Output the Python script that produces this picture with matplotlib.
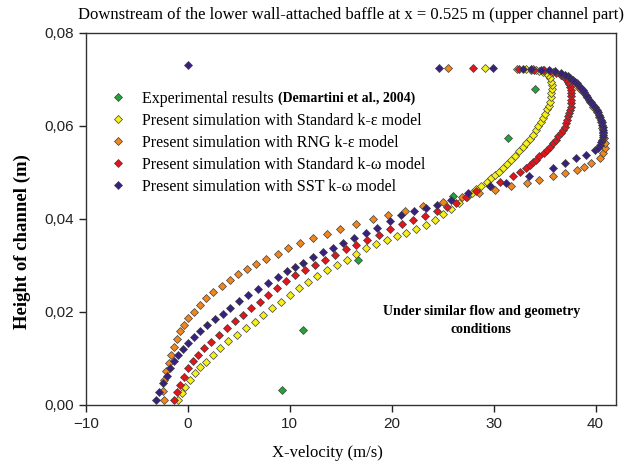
import numpy as np
import matplotlib
matplotlib.use("Agg")
import matplotlib.pyplot as plt
from matplotlib.ticker import FuncFormatter

# experimental points (Demartini et al., 2004)
exp_x = [9.2, 11.3, 16.7, 26.0, 31.4, 34.1]
exp_y = [0.0032, 0.0161, 0.0312, 0.0450, 0.0573, 0.0678]

# standard k-epsilon
ske_x = [-0.95, -0.6, -0.3, 0.2, 0.7, 1.2, 1.8, 2.5, 3.1, 3.9, 4.8, 5.7, 6.6, 7.4, 8.2,
         9.1, 10.0, 10.9, 11.8, 12.7, 13.6, 14.6, 15.6, 16.5, 17.5, 18.5, 19.5, 20.5,
         21.4, 22.4, 23.4, 24.2, 25.0, 25.8, 26.6, 27.4, 27.9, 28.3, 28.8, 29.3, 29.7,
         30.1, 30.5, 30.9, 31.3, 31.7, 32.1, 32.5, 32.9, 33.2, 33.6, 33.9, 34.2, 34.4,
         34.6, 34.8, 35.0, 35.2, 35.4, 35.5, 35.6, 35.6, 35.7, 35.7, 35.6, 35.5, 35.3,
         35.1, 34.8, 34.5, 34.2, 33.7, 33.2, 29.2]
ske_y = [0.0011, 0.0025, 0.0039, 0.0054, 0.0068, 0.0081, 0.0093, 0.0108, 0.0122, 0.0137,
         0.0151, 0.0165, 0.0179, 0.0194, 0.0208, 0.0222, 0.0237, 0.0251, 0.0265, 0.0278,
         0.0290, 0.0301, 0.0312, 0.0324, 0.0337, 0.0346, 0.0355, 0.0363, 0.0370, 0.0379,
         0.0387, 0.0398, 0.0410, 0.0422, 0.0434, 0.0447, 0.0455, 0.0463, 0.0471, 0.0480,
         0.0487, 0.0494, 0.0501, 0.0509, 0.0518, 0.0527, 0.0536, 0.0545, 0.0554, 0.0563,
         0.0572, 0.0581, 0.0590, 0.0599, 0.0608, 0.0617, 0.0626, 0.0635, 0.0643, 0.0652,
         0.0661, 0.0670, 0.0679, 0.0688, 0.0695, 0.0702, 0.0708, 0.0713, 0.0716, 0.0718,
         0.0720, 0.0720, 0.0721, 0.0725]

# RNG k-epsilon
rng_x = [-2.4, -2.5, -2.4, -2.2, -1.9, -1.7, -1.4, -1.1, -0.8, -0.4, 0.0, 0.6, 1.2, 1.8,
         2.5, 3.3, 4.1, 4.9, 5.8, 6.7, 7.7, 8.8, 9.8, 11.0, 12.3, 13.6, 14.9, 16.5, 18.2,
         19.6, 21.3, 23.1, 25.0, 26.9, 28.6, 30.1, 31.7, 33.3, 34.5, 35.8, 37.0, 38.2,
         38.9, 39.6, 40.4, 40.7, 40.9, 40.9, 40.8, 40.7, 40.6, 40.5, 40.3, 40.1, 39.8,
         39.5, 39.2, 38.8, 38.4, 37.9, 37.3, 36.6, 35.8, 34.9, 33.9, 32.3, 25.5]
rng_y = [0.0011, 0.0030, 0.0054, 0.0072, 0.0090, 0.0107, 0.0125, 0.0141, 0.0158, 0.0172,
         0.0186, 0.0200, 0.0215, 0.0229, 0.0242, 0.0256, 0.0269, 0.0281, 0.0292, 0.0303,
         0.0313, 0.0325, 0.0337, 0.0347, 0.0358, 0.0368, 0.0378, 0.0389, 0.0399, 0.0409,
         0.0417, 0.0427, 0.0437, 0.0446, 0.0455, 0.0462, 0.0470, 0.0477, 0.0484, 0.0491,
         0.0498, 0.0505, 0.0512, 0.0520, 0.0530, 0.0541, 0.0552, 0.0563, 0.0574, 0.0585,
         0.0596, 0.0607, 0.0618, 0.0629, 0.0640, 0.0651, 0.0662, 0.0672, 0.0682, 0.0692,
         0.0701, 0.0709, 0.0715, 0.0719, 0.0721, 0.0722, 0.0725]

# standard k-omega
skw_x = [-1.4, -1.1, -0.8, -0.4, 0.0, 0.5, 1.0, 1.6, 2.3, 3.0, 3.8, 4.6, 5.4, 6.2, 7.1,
         7.9, 8.7, 9.6, 10.5, 11.5, 12.5, 13.4, 14.4, 15.5, 16.5, 17.6, 18.7, 19.8, 21.0,
         22.1, 23.3, 24.4, 25.4, 26.3, 27.3, 28.3, 29.6, 30.6, 31.9, 32.6, 33.2, 33.6,
         33.9, 34.2, 34.5, 34.9, 35.2, 35.5, 35.8, 36.1, 36.3, 36.6, 36.8, 37.0, 37.1,
         37.2, 37.3, 37.4, 37.5, 37.6, 37.6, 37.6, 37.6, 37.6, 37.6, 37.5, 37.4, 37.3,
         37.1, 36.9, 36.6, 36.1, 35.5, 34.8, 34.0, 32.5, 28.0]
skw_y = [0.0011, 0.0027, 0.0043, 0.0061, 0.0079, 0.0094, 0.0108, 0.0122, 0.0136, 0.0151,
         0.0165, 0.0180, 0.0194, 0.0208, 0.0222, 0.0237, 0.0251, 0.0266, 0.0280, 0.0291,
         0.0301, 0.0312, 0.0323, 0.0334, 0.0344, 0.0355, 0.0366, 0.0378, 0.0388, 0.0398,
         0.0407, 0.0416, 0.0425, 0.0434, 0.0446, 0.0459, 0.0470, 0.0480, 0.0491, 0.0500,
         0.0509, 0.0515, 0.0521, 0.0527, 0.0534, 0.0541, 0.0548, 0.0555, 0.0563, 0.0570,
         0.0577, 0.0584, 0.0591, 0.0598, 0.0605, 0.0612, 0.0620, 0.0627, 0.0634, 0.0641,
         0.0649, 0.0656, 0.0663, 0.0670, 0.0677, 0.0684, 0.0690, 0.0695, 0.0700, 0.0705,
         0.0710, 0.0714, 0.0717, 0.0719, 0.0720, 0.0721, 0.0725]

# SST k-omega
sst_x = [-3.1, -2.8, -2.5, -2.1, -1.8, -1.4, -0.95, -0.5, 0.0, 0.6,
         1.2, 1.9, 2.65, 3.4, 4.1, 5.0, 5.9, 6.9, 7.9, 8.8,
         9.7, 10.5, 11.3, 12.3, 13.3, 14.2, 15.2, 16.3, 17.5, 18.6,
         19.8, 20.9, 22.2, 23.4, 24.4, 25.8, 27.5, 29.6, 31.2, 33.5,
         35.8, 37.0, 38.1, 39.1, 39.9, 40.2, 40.4, 40.5, 40.6, 40.7,
         40.7, 40.7, 40.7, 40.7, 40.6, 40.6, 40.5, 40.4, 40.3, 40.2,
         40.1, 39.9, 39.8, 39.6, 39.4, 39.2, 39.1, 38.9, 38.8, 38.6,
         38.4, 38.2, 38.0, 37.8, 37.5, 37.3, 37.0, 36.6, 36.0, 35.4,
         34.6, 33.7, 32.9, 29.9, 24.6, 0.0]
sst_y = [0.0011, 0.0028, 0.0047, 0.0063, 0.0079, 0.0094, 0.0108, 0.0121, 0.0133, 0.0146,
         0.0158, 0.0171, 0.0184, 0.0196, 0.0208, 0.0223, 0.0237, 0.0250, 0.0262, 0.0275,
         0.0287, 0.0297, 0.0306, 0.0317, 0.0328, 0.0338, 0.0348, 0.0358, 0.0369, 0.0380,
         0.0395, 0.0409, 0.0417, 0.0423, 0.0430, 0.0440, 0.0455, 0.0470, 0.0477, 0.0491,
         0.0509, 0.0520, 0.0530, 0.0538, 0.0548, 0.0553, 0.0559, 0.0565, 0.0570, 0.0576,
         0.0581, 0.0586, 0.0591, 0.0597, 0.0602, 0.0608, 0.0613, 0.0618, 0.0624, 0.0629,
         0.0634, 0.0640, 0.0645, 0.0650, 0.0656, 0.0661, 0.0667, 0.0672, 0.0677, 0.0682,
         0.0686, 0.0691, 0.0695, 0.0699, 0.0703, 0.0707, 0.0710, 0.0714, 0.0717, 0.0719,
         0.0720, 0.0721, 0.0722, 0.0725, 0.0725, 0.0730]

labels = ["Experimental results",
          "Present simulation with Standard k-\u03b5 model",
          "Present simulation with RNG k-\u03b5 model",
          "Present simulation with Standard k-\u03c9 model",
          "Present simulation with SST k-\u03c9 model"]
colors = ["#22a33c", "#f5f01a", "#f0861e", "#e3141b", "#37207f"]

serif = "Liberation Serif"
plt.rcParams["font.family"] = "Liberation Sans"

fig = plt.figure(figsize=(6.33, 4.67), dpi=100)
ax = fig.add_axes([0.136, 0.133, 0.837, 0.797])

series = [(exp_x, exp_y), (ske_x, ske_y), (rng_x, rng_y), (skw_x, skw_y), (sst_x, sst_y)]
handles = []
for (xs, ys), c, lab in zip(series, colors, labels):
    h, = ax.plot(xs, ys, ls="none", marker="D", ms=4.3, mfc=c, mec="#404040",
                 mew=0.5, label=lab)
    handles.append(h)

ax.set_xlim(-10, 42)
ax.set_ylim(0, 0.08)
ax.set_xticks([-10, 0, 10, 20, 30, 40])
ax.set_yticks([0, 0.02, 0.04, 0.06, 0.08])
ax.yaxis.set_major_formatter(FuncFormatter(lambda v, p: ("%.2f" % v).replace(".", ",")))
ax.tick_params(direction="out", length=5, width=1, labelsize=11, colors="#222222")
for s in ax.spines.values():
    s.set_linewidth(1)
    s.set_color("#333333")

ax.set_title("Downstream of the lower wall-attached baffle at x = 0.525 m (upper channel part)",
             fontfamily=serif, fontsize=12, pad=10)
ax.set_xlabel("X-velocity (m/s)", fontfamily=serif, fontsize=12)
ax.xaxis.set_label_coords(0.455, -0.107)
ax.set_ylabel("Height of channel (m)", fontfamily=serif, fontsize=13.5, fontweight="bold")
ax.yaxis.set_label_coords(-0.104, 0.44)

leg = ax.legend(handles=handles, loc="upper left", bbox_to_anchor=(0.03, 0.866),
                frameon=False, prop={"family": serif, "size": 11.5},
                handlelength=1.0, handletextpad=1.0, labelspacing=0.38,
                borderpad=0, numpoints=1)

ax.text(28.8, 0.0181, "Under similar flow and geometry\nconditions", ha="center",
        va="center", multialignment="center", fontfamily=serif, fontsize=10,
        fontweight="bold", linespacing=1.5)

# bold reference right after the first legend entry
fig.canvas.draw()
bb = leg.get_texts()[0].get_window_extent()
fig.text(bb.x1 + 4, (bb.y0 + bb.y1) / 2, "(Demartini et al., 2004)",
         transform=None, va="center", ha="left",
         fontfamily=serif, fontsize=10, fontweight="bold")

fig.savefig("out.png", dpi=100)
